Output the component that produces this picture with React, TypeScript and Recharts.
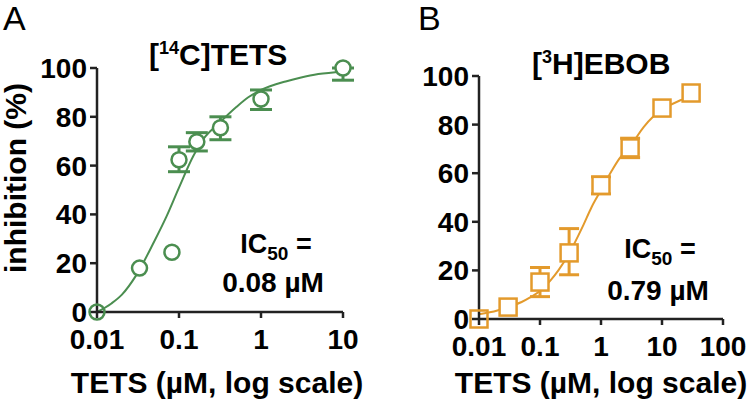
import { ComposedChart, Line, Scatter, XAxis, YAxis, ErrorBar } from 'recharts';

const GREEN = '#4b8e50';
const ORANGE = '#e39a2c';
const FONT = '"Liberation Sans", Arial, Helvetica, sans-serif';

// Panel A: [14C]TETS binding, mean points with asymmetric SEM
const tetsConc = [0.01, 0.033, 0.082, 0.1, 0.165, 0.32, 1, 10];
const tetsInhib = [0, 18, 24.5, 62.4, 69.8, 75.5, 87.3, 100];
const tetsErrLow = [null, null, null, 4.9, 3.8, 4.9, 4.3, 5];
const tetsErrHigh = [null, null, null, 5.3, 3.7, 4.5, 3.7, 0];
// fitted curve
const tetsFitConc = [0.01, 0.015, 0.02, 0.03, 0.05, 0.07, 0.1, 0.15, 0.2, 0.3, 0.5, 0.7, 1, 2, 3, 5, 10];
const tetsFitInhib = [0, 3.5, 7, 15, 29, 39, 51, 64, 71, 77, 84, 88, 91, 94.5, 96, 97.5, 98.5];

// Panel B: [3H]EBOB binding
const ebobConc = [0.01, 0.03, 0.1, 0.3, 1, 3, 10, 30];
const ebobInhib = [0, 4.9, 15.2, 27.2, 55, 70.4, 86.8, 93];
const ebobErrLow = [null, null, 6, 9, 3.5, 4, null, null];
const ebobErrHigh = [null, null, 6, 10, 3.5, 4, null, null];
const ebobFitConc = [0.01, 0.02, 0.03, 0.05, 0.07, 0.1, 0.15, 0.2, 0.3, 0.5, 0.7, 1, 1.5, 2, 3, 5, 7, 10, 20, 30];
const ebobFitInhib = [2, 3.5, 5, 7, 9, 11.5, 16, 20, 27, 38, 46, 53, 61, 66, 71, 79, 83, 86, 90, 91.5];

const yTicks = [0, 20, 40, 60, 80, 100];
const xTicksA = [0.01, 0.1, 1, 10];
const xTicksB = [0.01, 0.1, 1, 10, 100];

function points(x: number[], y: number[], lo: (number | null)[], hi: (number | null)[]) {
  return x.map((v, i) => ({ x: v, y: y[i], err: lo[i] == null ? null : [lo[i], hi[i]] }));
}
function curve(x: number[], y: number[]) {
  return x.map((v, i) => ({ x: v, y: y[i] }));
}

const ptsA = points(tetsConc, tetsInhib, tetsErrLow, tetsErrHigh);
const ptsB = points(ebobConc, ebobInhib, ebobErrLow, ebobErrHigh);
const fitA = curve(tetsFitConc, tetsFitInhib);
const fitB = curve(ebobFitConc, ebobFitInhib);

const tickStyle = { fontSize: 28, fontWeight: 'bold', fill: '#000', fontFamily: FONT };
const axisStroke = { stroke: '#222', strokeWidth: 2.5 };

const CircleMark = (p: any) => (
  <circle cx={p.cx} cy={p.cy} r={7.5} fill={p.payload.y === 0 ? 'none' : '#fff'} stroke={GREEN} strokeWidth={2.5} />
);
const SquareMark = (p: any) => (
  <rect x={p.cx - 8.5} y={p.cy - 8.5} width={17} height={17} fill={p.payload.y === 0 ? 'none' : '#fff'} stroke={ORANGE} strokeWidth={2.5} />
);

function Panel({ pts, fit, color, domain, ticks, shape, yWidth, width, margin, xHeight, cap }: any) {
  return (
    <ComposedChart width={width} height={407} margin={margin}>
      <XAxis
        dataKey="x"
        type="number"
        scale="log"
        domain={domain}
        ticks={ticks}
        interval={0}
        height={xHeight}
        tick={tickStyle}
        tickSize={6}
        tickMargin={11}
        axisLine={axisStroke}
        tickLine={axisStroke}
        tickFormatter={(v: number) => String(v)}
      />
      <YAxis
        dataKey="y"
        type="number"
        domain={[0, 100]}
        ticks={yTicks}
        interval={0}
        width={yWidth}
        tick={tickStyle}
        tickSize={7}
        tickMargin={3}
        axisLine={axisStroke}
        tickLine={axisStroke}
      />
      <Scatter data={pts} shape={shape} isAnimationActive={false}>
        <ErrorBar dataKey="err" direction="y" width={cap} strokeWidth={3} stroke={color} />
      </Scatter>
      <Line data={fit} dataKey="y" type="monotone" stroke={color} strokeWidth={2} dot={false} activeDot={false} isAnimationActive={false} />
    </ComposedChart>
  );
}

export default function App() {
  return (
    <div style={{ position: 'absolute', left: 0, top: 0, width: 751, height: 407, background: '#fff', fontFamily: FONT }}>
      <div style={{ position: 'absolute', left: 0, top: 0 }}>
        <Panel pts={ptsA} fit={fitA} color={GREEN} domain={[0.01, 10]} ticks={xTicksA} shape={CircleMark}
          yWidth={97} width={375} margin={{ top: 68, right: 32, bottom: 0, left: 0 }} xHeight={95} cap={11} />
      </div>
      <div style={{ position: 'absolute', left: 380, top: 0 }}>
        <Panel pts={ptsB} fit={fitB} color={ORANGE} domain={[0.01, 100]} ticks={xTicksB} shape={SquareMark}
          yWidth={99} width={371} margin={{ top: 76, right: 28, bottom: 0, left: 0 }} xHeight={88} cap={10} />
      </div>
      <svg width={751} height={407} style={{ position: 'absolute', left: 0, top: 0, pointerEvents: 'none' }} fontFamily={FONT}>
        <text x={3} y={30} fontSize={34}>A</text>
        <text x={418} y={30} fontSize={34}>B</text>

        <text x={149} y={65} fontSize={30} fontWeight="bold">
          [<tspan fontSize={18} dy={-11}>14</tspan><tspan dy={11}>C]TETS</tspan>
        </text>
        <text x={532} y={74} fontSize={30} fontWeight="bold">
          [<tspan fontSize={18} dy={-11}>3</tspan><tspan dy={11}>H]EBOB</tspan>
        </text>

        <text transform="translate(26,178) rotate(-90)" textAnchor="middle" fontSize={30} fontWeight="bold">inhibition (%)</text>

        <text x={217} y={393} textAnchor="middle" fontSize={30} fontWeight="bold">TETS (µM, log scale)</text>
        <text x={601} y={393} textAnchor="middle" fontSize={30} fontWeight="bold">TETS (µM, log scale)</text>

        <text x={276} y={253} textAnchor="middle" fontSize={27} fontWeight="bold">
          IC<tspan fontSize={19} dy={7}>50</tspan><tspan dy={-7}> =</tspan>
        </text>
        <text x={273} y={292} textAnchor="middle" fontSize={28} fontWeight="bold">0.08 µM</text>

        <text x={660} y={258} textAnchor="middle" fontSize={27} fontWeight="bold">
          IC<tspan fontSize={19} dy={7}>50</tspan><tspan dy={-7}> =</tspan>
        </text>
        <text x={658} y={300} textAnchor="middle" fontSize={28} fontWeight="bold">0.79 µM</text>
      </svg>
    </div>
  );
}
